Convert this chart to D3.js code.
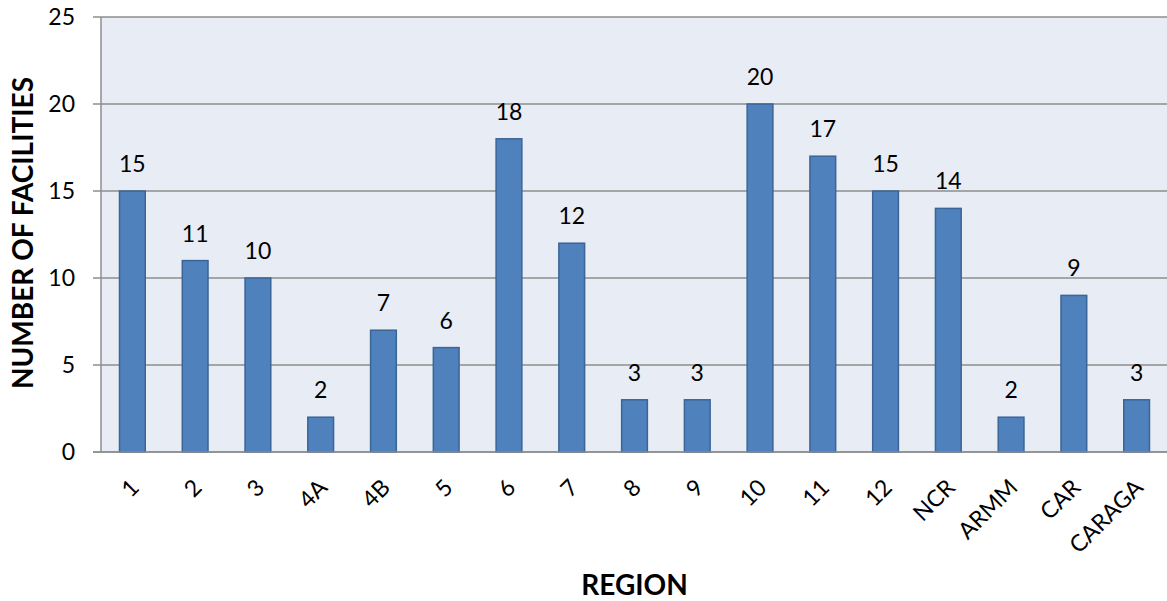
<!DOCTYPE html>
<meta charset="utf-8">
<style>
body { margin: 0; background: #fff; }
text { font-family: Lato, "Open Sans", sans-serif; fill: #000; }
.grid line { stroke: #8e8e8e; stroke-width: 1.5; }
.bar { fill: #4f81bd; stroke: #3b6596; stroke-width: 1.5; }
</style>
<body></body>
<script src="https://d3js.org/d3.v7.min.js"></script>
<script>
// data
var regions = ["1", "2", "3", "4A", "4B", "5", "6", "7", "8", "9", "10", "11", "12", "NCR", "ARMM", "CAR", "CARAGA"];
var facilities = [15, 11, 10, 2, 7, 6, 18, 12, 3, 3, 20, 17, 15, 14, 2, 9, 3];
var yTicks = [0, 5, 10, 15, 20, 25];

var W = 1167, H = 601;
var plot = {left: 101, top: 17, right: 1168, bottom: 452};

var svg = d3.select("body").append("svg")
    .attr("width", W)
    .attr("height", H);

var x = d3.scaleBand()
    .domain(regions)
    .range([plot.left, plot.right])
    .paddingInner(0.59)
    .paddingOuter(0.295);

var y = d3.scaleLinear()
    .domain([0, 25])
    .range([plot.bottom, plot.top]);

// plot background
svg.append("rect")
    .attr("x", plot.left)
    .attr("y", plot.top)
    .attr("width", plot.right - plot.left)
    .attr("height", plot.bottom - plot.top)
    .attr("fill", "#e8ecf4");

// gridlines + tick marks
var grid = svg.append("g").attr("class", "grid");
grid.selectAll("line")
    .data(yTicks)
  .enter().append("line")
    .attr("x1", plot.left - 8)
    .attr("x2", plot.right)
    .attr("y1", function(d) { return y(d); })
    .attr("y2", function(d) { return y(d); });

grid.append("line")
    .attr("x1", plot.left).attr("x2", plot.left)
    .attr("y1", plot.top).attr("y2", plot.bottom);

// y tick labels
svg.append("g").selectAll("text")
    .data(yTicks)
  .enter().append("text")
    .attr("x", plot.left - 26)
    .attr("y", function(d) { return y(d); })
    .attr("dy", "0.36em")
    .attr("text-anchor", "end")
    .style("font-size", "23px")
    .text(function(d) { return d; });

// bars
svg.append("g").selectAll("rect")
    .data(facilities)
  .enter().append("rect")
    .attr("class", "bar")
    .attr("x", function(d, i) { return x(regions[i]); })
    .attr("width", x.bandwidth())
    .attr("y", function(d) { return y(d); })
    .attr("height", function(d) { return y(0) - y(d); });

// bottom axis line over bars
svg.append("line")
    .attr("x1", plot.left - 8).attr("x2", plot.right)
    .attr("y1", y(0)).attr("y2", y(0))
    .attr("stroke", "#8e8e8e")
    .attr("stroke-width", 1.5);

// value labels
svg.append("g").selectAll("text")
    .data(facilities)
  .enter().append("text")
    .attr("x", function(d, i) { return x(regions[i]) + x.bandwidth() / 2; })
    .attr("y", function(d) { return y(d) - 19; })
    .attr("text-anchor", "middle")
    .style("font-size", "23px")
    .text(function(d) { return d; });

// rotated category labels
svg.append("g").selectAll("text")
    .data(regions)
  .enter().append("text")
    .attr("text-anchor", "end")
    .attr("transform", function(d) {
      return "translate(" + (x(d) + x.bandwidth() / 2 + 8) + ",489) rotate(-45)";
    })
    .style("font-size", "23px")
    .text(function(d) { return d; });

// axis titles
svg.append("text")
    .attr("x", (plot.left + plot.right) / 2)
    .attr("y", 595)
    .attr("text-anchor", "middle")
    .style("font-size", "28px")
    .style("font-weight", "bold")
    .text("REGION");

svg.append("text")
    .attr("transform", "translate(33,233) rotate(-90)")
    .attr("text-anchor", "middle")
    .style("font-size", "28px")
    .style("font-weight", "bold")
    .text("NUMBER OF FACILITIES");
</script>
